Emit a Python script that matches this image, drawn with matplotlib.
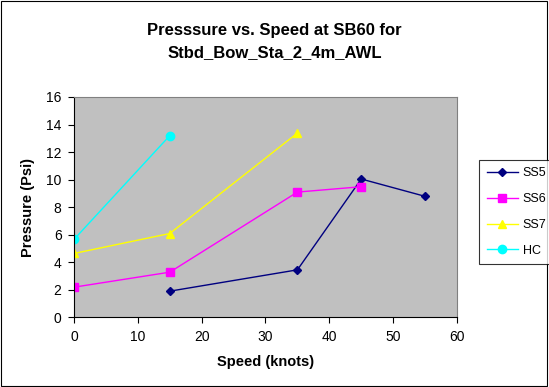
import matplotlib
matplotlib.use("Agg")
import matplotlib.pyplot as plt
from matplotlib.patches import Rectangle

plt.rcParams['font.family'] = ['Liberation Sans', 'DejaVu Sans']

# speed (knots) and pressure (psi) per sea state
ss5_speed = [15, 35, 45, 55]
ss5_psi = [1.89, 3.44, 10.04, 8.78]
ss6_speed = [0, 15, 35, 45]
ss6_psi = [2.18, 3.27, 9.09, 9.48]
ss7_speed = [0, 15, 35]
ss7_psi = [4.63, 6.08, 13.38]
hc_speed = [0, 15]
hc_psi = [5.65, 13.19]

fig = plt.figure(figsize=(5.49, 3.87), dpi=100)
fig.patches.append(Rectangle((0.002, 0.003), 0.995, 0.994, transform=fig.transFigure,
                             fill=False, edgecolor='black', linewidth=0.8))

ax = fig.add_axes([0.1348, 0.1804, 0.6976, 0.5690])
ax.set_facecolor('#C0C0C0')

ax.plot(ss5_speed, ss5_psi, color='#000080', marker='D', markersize=4, linewidth=1.0, label='SS5')
ax.plot(ss6_speed, ss6_psi, color='#FF00FF', marker='s', markersize=6, linewidth=1.0, label='SS6')
ax.plot(ss7_speed, ss7_psi, color='#FFFF00', marker='^', markersize=6, linewidth=1.0, label='SS7')
ax.plot(hc_speed, hc_psi, color='#00FFFF', marker='o', markersize=6, linewidth=1.0, label='HC')

ax.set_xlim(0, 60)
ax.set_ylim(0, 16)
ax.set_xticks(range(0, 61, 10))
ax.set_yticks(range(0, 17, 2))
ax.tick_params(labelsize=10, length=4, width=0.8, direction='out', pad=5)

for side in ('top', 'right'):
    ax.spines[side].set_color('#808080')
    ax.spines[side].set_linewidth(0.8)
for side in ('left', 'bottom'):
    ax.spines[side].set_color('black')
    ax.spines[side].set_linewidth(0.8)

ax.set_xlabel('Speed (knots)', fontsize=10.5, fontweight='bold', labelpad=8)
ax.set_ylabel('Pressure (Psi)', fontsize=10.5, fontweight='bold', labelpad=8)

fig.text(0.5, 0.893, 'Presssure vs. Speed at SB60 for\nStbd_Bow_Sta_2_4m_AWL',
         ha='center', va='center', fontsize=12, fontweight='bold', linespacing=1.6)

leg = fig.legend(loc='upper left', bbox_to_anchor=(0.8725, 0.5866), borderaxespad=0,
                 fontsize=9, frameon=True, fancybox=False, edgecolor='black',
                 handlelength=2.5, labelspacing=1.1, borderpad=0.6, handletextpad=0.4)
leg.get_frame().set_linewidth(0.8)

fig.savefig('out.png', dpi=100)
